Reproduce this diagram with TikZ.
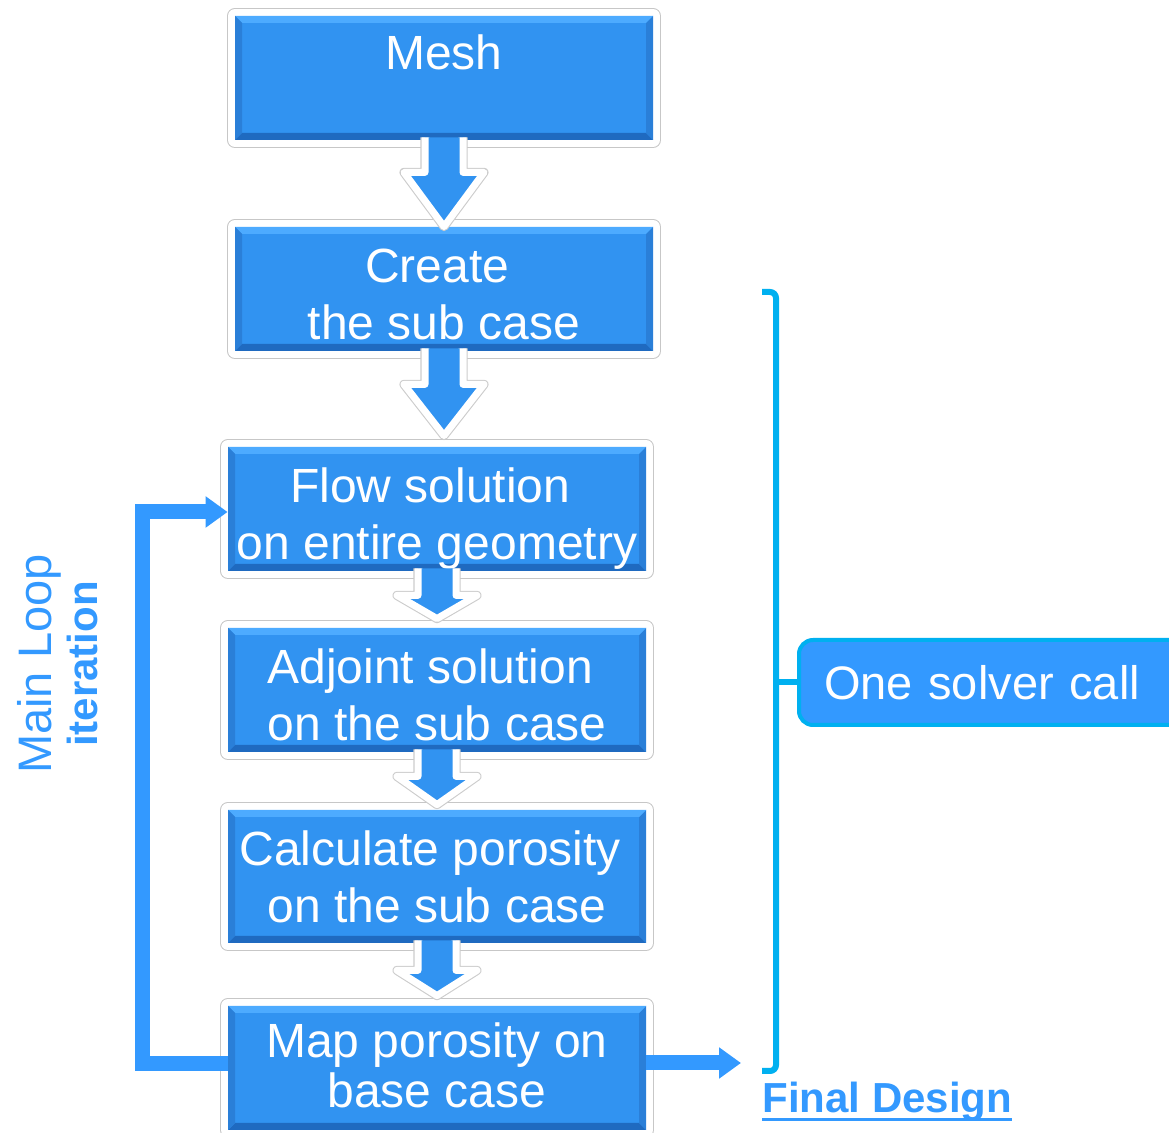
\documentclass[tikz,border=0pt]{standalone}
\usepackage{fontspec}
\setmainfont{Liberation Sans}
\newsavebox\ulsave
\newcommand\ulword[1]{\sbox\ulsave{#1}\rlap{\rule[-3.8pt]{\wd\ulsave}{1.5pt}}\usebox\ulsave}
\usetikzlibrary{arrows.meta,calc}
\definecolor{flowBlue}{HTML}{3193F1}
\definecolor{flowDark}{HTML}{1F6AC0}
\definecolor{flowMid}{HTML}{2A7FD8}
\definecolor{flowLight}{HTML}{4DABFF}
\definecolor{loopBlue}{HTML}{3399FF}
\definecolor{braceCyan}{HTML}{00B0F0}
\tikzset{
  >={Triangle[length=11pt,width=15pt]},
  stepbox/.style={fill=flowBlue, minimum width=209pt, minimum height=62pt, inner sep=0pt,
              align=center, text=white, font=\fontsize{24}{28.5}\selectfont,
              text height=51pt, text depth=0pt,
              preaction={draw=black!22, line width=8.2pt, line join=round},
              preaction={draw=white, line width=7pt, line join=round},
              path picture={
                \path (path picture bounding box.south west) coordinate (bsw)
                      (path picture bounding box.south east) coordinate (bse)
                      (path picture bounding box.north west) coordinate (bnw)
                      (path picture bounding box.north east) coordinate (bne);
                \fill[flowDark] (bsw) -- (bse) -- ($(bse)+(-3.5pt,3.5pt)$) -- ($(bsw)+(3.5pt,3.5pt)$) -- cycle;
                \fill[flowMid] (bse) -- (bne) -- ($(bne)+(-3.5pt,-3.5pt)$) -- ($(bse)+(-3.5pt,3.5pt)$) -- cycle;
                \fill[flowLight] (bnw) -- (bne) -- ($(bne)+(-3.5pt,-3.5pt)$) -- ($(bnw)+(3.5pt,-3.5pt)$) -- cycle;
                \fill[flowMid] (bsw) -- (bnw) -- ($(bnw)+(3.5pt,-3.5pt)$) -- ($(bsw)+(3.5pt,3.5pt)$) -- cycle;
              }},
  blockarr/.style={fill=flowBlue, draw=white, line width=3.5pt, line join=round,
              preaction={draw=black!20, line width=4.6pt, line join=round}},
  backarr/.style={->, draw=loopBlue, line width=7.5pt},
  callbrace/.style={draw=braceCyan, line width=3pt, rounded corners=3pt},
  solverbox/.style={fill=loopBlue, draw=braceCyan, line width=2pt, rounded corners=7pt,
              minimum height=42.5pt, text width=190pt, align=left, inner xsep=12.5pt,
              text=white, font=\fontsize{23.5}{28}\selectfont},
  lbl/.style={text=loopBlue, align=center},
}
\begin{document}
\begin{tikzpicture}[x=0.5pt,y=-0.5pt]
  \useasboundingbox (0,0) rectangle (1169,1133);
  % the chain
  \node[stepbox,text height=0pt,text depth=8.8pt] (mesh) at (444,78) {Mesh};
  \node[stepbox,text height=50.2pt] (create) at (444,289) {Create\ \null\\the sub case};
  \node[stepbox] (flow) at (437,509) {Flow solution\ \null\\on entire geometry};
  \node[stepbox] (adj) at (437,690) {Adjoint solution\ \null\\on the sub case};
  \node[stepbox,minimum height=66.5pt,text height=45.7pt] (poro) at (437,876.5) {Calculate porosity\ \null\\on the sub case};
  \node[stepbox,font=\fontsize{24}{25}\selectfont,text height=39.2pt] (map) at (437,1068) {Map porosity on\\base case};
  % block arrows
  \foreach \a/\b/\s/\t in {mesh/create/16pt/0pt, create/flow/16.5pt/5.5pt, flow/adj/12pt/4.5pt,
                           adj/poro/12pt/2.5pt, poro/map/13.5pt/5pt}{
    \path (\a.south) ++(0,-\s) coordinate (hb) (\a.south |- \b.north) ++(0,\t) coordinate (tp);
    \draw[blockarr] ([xshift=-9.5pt,yshift=1.5pt]\a.south) -- ([xshift=-9.5pt]hb) -- ([xshift=-20pt]hb)
      -- (tp) -- ([xshift=20pt]hb) -- ([xshift=9.5pt]hb) -- ([xshift=9.5pt,yshift=1.5pt]\a.south);
  }
  % main loop
  \draw[backarr] ([yshift=2pt]map.west) -- ++(-85,0) |- ([yshift=-1.5pt]flow.west);
  \node[lbl,rotate=90,font=\fontsize{21}{23}\selectfont] (mainloop) at (58,664)
    {{\fontsize{23.5}{23}\selectfont Main Loop}\\{\bfseries iteration}};
  % output
  \coordinate (fin) at (741,1063);
  \draw[backarr] ([yshift=2.5pt]map.east) -- (fin);
  \node[lbl,font=\fontsize{21}{25}\selectfont\bfseries,anchor=base west,inner sep=0pt] (final)
    at (762,1113) {\ulword{Final Design}};
  % solver bracket
  \node[solverbox,anchor=west] (solver) at (797,682.5) {One solver call};
  \coordinate (btop) at (762,292);
  \coordinate (bmid) at (776,682.5);
  \coordinate (bbot) at (762,1071);
  \draw[callbrace] (btop) -| (bmid) |- (bbot);
  \draw[callbrace] (bmid) -- (solver.west);
\end{tikzpicture}
\end{document}
